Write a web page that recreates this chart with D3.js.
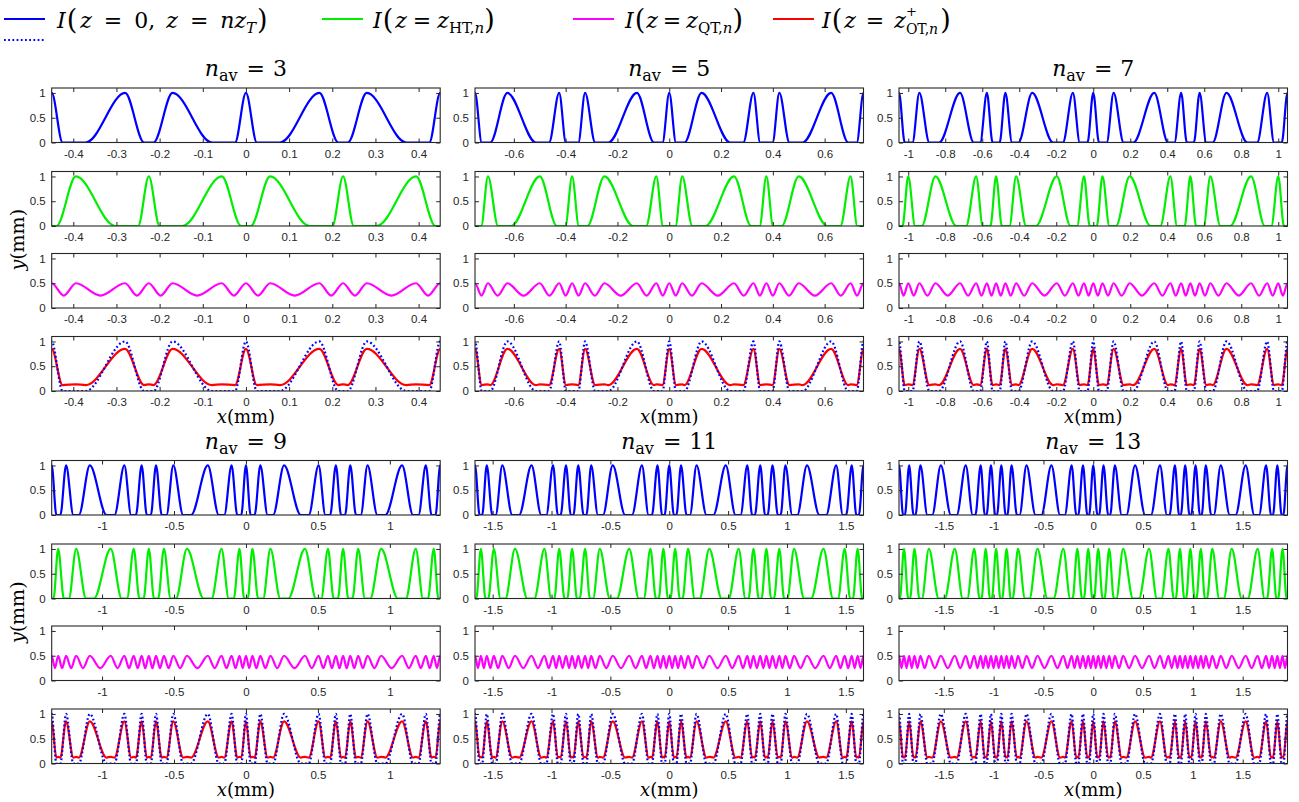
<!DOCTYPE html>
<html>
<head>
<meta charset="utf-8">
<script src="https://cdn.jsdelivr.net/npm/d3@7"></script>
<style>
  body { margin: 0; background: #ffffff; }
  svg { display: block; }
</style>
</head>
<body>
<svg id="chart" width="1299" height="802"></svg>
<script>
// Crest positions (mm) of the z = 0 / z = n z_T intensity ("blue" family)
// and of the half-Talbot intensity ("green" family), per n_av panel.
// Green lists carry one extra crest beyond each edge of the window.
const blue3  = [-0.45, -0.28, -0.17, 0, 0.17, 0.28, 0.45];
const green3 = [-0.506, -0.394, -0.225, -0.056, 0.056, 0.225, 0.394, 0.506];
const broad3 = [-0.394, -0.28, -0.17, -0.056, 0.056, 0.17, 0.28, 0.394];
const xTicks3 = [-0.4, -0.3, -0.2, -0.1, 0, 0.1, 0.2, 0.3, 0.4];

const blue5  = [-0.75, -0.625, -0.425, -0.325, -0.125, 0, 0.125, 0.325, 0.425, 0.625, 0.75];
const green5 = [-0.8, -0.7, -0.5, -0.375, -0.25, -0.05, 0.05, 0.25, 0.375, 0.5, 0.7, 0.8];
const broad5 = [-0.625, -0.5, -0.25, -0.125, 0.125, 0.25, 0.5, 0.625];
const xTicks5 = [-0.6, -0.4, -0.2, 0, 0.2, 0.4, 0.6];

const blue7  = [-1.05, -0.94, -0.72, -0.575, -0.475, -0.33, -0.11, 0, 0.11, 0.33, 0.475, 0.575, 0.72, 0.94, 1.05];
const green7 = [-1.1, -1.0, -0.853, -0.633, -0.525, -0.417, -0.197, -0.05, 0.05, 0.197, 0.417, 0.525, 0.633, 0.853, 1.0, 1.1];
const broad7 = [-0.853, -0.72, -0.33, -0.197, 0.197, 0.33, 0.72, 0.853];
const xTicks7 = [-1, -0.8, -0.6, -0.4, -0.2, 0, 0.2, 0.4, 0.6, 0.8, 1];

const blue9  = [-1.35, -1.25, -1.085, -0.845, -0.725, -0.625, -0.505, -0.265, -0.1, 0, 0.1, 0.265, 0.505, 0.625, 0.725, 0.845, 1.085, 1.25, 1.35];
const green9 = [-1.395, -1.305, -1.18, -0.94, -0.78, -0.675, -0.57, -0.41, -0.17, -0.045, 0.045, 0.17, 0.41, 0.57, 0.675, 0.78, 0.94, 1.18, 1.305, 1.395];
const broad9 = [-1.085, -0.94, -0.41, -0.265, 0.265, 0.41, 0.94, 1.085];
const xTicks9 = [-1, -0.5, 0, 0.5, 1];

const blue11  = [-1.65, -1.55, -1.418, -1.17, -0.987, -0.877, -0.773, -0.663, -0.48, -0.232, -0.1, 0, 0.1, 0.232, 0.48, 0.663, 0.773, 0.877, 0.987, 1.17, 1.418, 1.55, 1.65];
const green11 = [-1.7, -1.6, -1.49, -1.31, -1.06, -0.935, -0.825, -0.715, -0.59, -0.34, -0.16, -0.05, 0.05, 0.16, 0.34, 0.59, 0.715, 0.825, 0.935, 1.06, 1.31, 1.49, 1.6, 1.7];
const broad11 = [-1.31, -1.17, -0.48, -0.34, 0.34, 0.48, 1.17, 1.31];
const xTicks11 = [-1.5, -1, -0.5, 0, 0.5, 1, 1.5];

const blue13  = [-1.95, -1.848, -1.735, -1.53, -1.28, -1.13, -1.027, -0.923, -0.82, -0.67, -0.42, -0.217, -0.103, 0, 0.103, 0.217, 0.42, 0.67, 0.82, 0.923, 1.027, 1.13, 1.28, 1.53, 1.735, 1.848, 1.95];
const green13 = [-2.0, -1.9, -1.795, -1.65, -1.39, -1.195, -1.08, -0.975, -0.87, -0.755, -0.56, -0.3, -0.16, -0.05, 0.05, 0.16, 0.3, 0.56, 0.755, 0.87, 0.975, 1.08, 1.195, 1.39, 1.65, 1.795, 1.9, 2.0];
const broad13 = [-1.53, -1.39, -0.56, -0.42, 0.42, 0.56, 1.39, 1.53];
const xTicks13 = [-1.5, -1, -0.5, 0, 0.5, 1, 1.5];

const navValues = [3, 5, 7, 9, 11, 13];
const xHalfRange = [0.45, 0.75, 1.05, 1.35, 1.65, 1.95];
const yTicks = [0, 0.5, 1];

// Levels of the quarter-Talbot ripple and of the z_OT+ profile
const quarterHigh = 0.5, quarterLow = 0.25;
const otPeak = 0.85, otFloor = 0.12, otRipple = 0.135;

// Drawing: share of each crest-to-crest gap that a crest's flank occupies
const narrowFrac = [0.45, 0.52, 0.62, 0.72, 0.78, 0.82];
const broadFrac  = [0.8, 0.88, 0.85, 0.8, 0.75, 0.72];

const panels = [
  { blue: blue3,  green: green3,  broad: broad3,  ticks: xTicks3 },
  { blue: blue5,  green: green5,  broad: broad5,  ticks: xTicks5 },
  { blue: blue7,  green: green7,  broad: broad7,  ticks: xTicks7 },
  { blue: blue9,  green: green9,  broad: broad9,  ticks: xTicks9 },
  { blue: blue11, green: green11, broad: broad11, ticks: xTicks11 },
  { blue: blue13, green: green13, broad: broad13, ticks: xTicks13 }
].map((p, i) => Object.assign(p, {
  nav: navValues[i], xMax: xHalfRange[i], fn: narrowFrac[i], fb: broadFrac[i]
}));

// ---------- layout & style ----------
const W = 1299, H = 802;
const colLeft = [51.7, 475, 899];
const plotW = 388.5, plotH = 54.5;
const groupTop = [88, 460.5];
const rowOff = [0, 83.5, 165.5, 248.5];
const C = { blue: "#0000ff", green: "#00ee00", magenta: "#ff00ff", red: "#ff0000", frame: "#262626" };
const lw = 2.2;
const serif = "'DejaVu Serif', 'Liberation Serif', serif";
const sans = "'Liberation Sans', Arial, sans-serif";

const svg = d3.select("#chart");
svg.append("rect").attr("width", W).attr("height", H).attr("fill", "#fff");

// Rich text: sequence of segments, each {t, it, fs, dy, gap, hold}
function rich(g, x, y, segs, color) {
  let cx = x;
  segs.forEach(s => {
    const t = g.append("text")
      .attr("x", cx).attr("y", y + (s.dy || 0))
      .attr("font-family", serif)
      .attr("font-size", s.fs)
      .attr("font-style", s.it ? "italic" : "normal")
      .attr("fill", color || "#000")
      .text(s.t);
    const w = t.node().getComputedTextLength();
    if (!s.hold) cx += w + (s.gap || 0);
  });
  return cx - x;
}

// Profile key points: crests at 1, feet at 0, other-family crests at 0
function profile(all, kind, broadSet, fn, fb) {
  const pts = [];
  all.forEach((c, i) => {
    if (c.kind !== kind) { pts.push({ x: c.x, v: 0, role: "z" }); return; }
    const f = broadSet.has(c.x) ? fb : fn;
    const prev = all[i - 1], next = all[i + 1];
    const dl = prev ? c.x - prev.x : next.x - c.x;
    const dr = next ? next.x - c.x : c.x - prev.x;
    pts.push({ x: c.x - f * dl, v: 0, role: "f" },
             { x: c.x, v: 1, role: "c" },
             { x: c.x + f * dr, v: 0, role: "f" });
  });
  pts.sort((a, b) => a.x - b.x);
  return pts;
}

panels.forEach((p, pi) => {
  const col = pi % 3, grp = Math.floor(pi / 3);
  const x0 = colLeft[col];
  const x = d3.scaleLinear().domain([-p.xMax, p.xMax]).range([x0, x0 + plotW]);

  const all = p.blue.map(v => ({ x: v, kind: "b" }))
    .concat(p.green.map(v => ({ x: v, kind: "g" })))
    .sort((a, b) => a.x - b.x);
  const broadSet = new Set(p.broad);
  const bluePts = profile(all, "b", broadSet, p.fn, p.fb);
  const greenPts = profile(all, "g", broadSet, p.fn, p.fb);
  const magPts = [];
  all.forEach((c, i) => {
    magPts.push({ x: c.x, v: quarterHigh });
    if (i < all.length - 1) magPts.push({ x: (c.x + all[i + 1].x) / 2, v: quarterLow });
  });
  const redPts = bluePts.map(d => ({
    x: d.x,
    v: d.role === "c" ? otPeak : d.role === "z" ? otRipple : otFloor
  }));

  const rows = [
    [{ pts: bluePts, color: C.blue }],
    [{ pts: greenPts, color: C.green }],
    [{ pts: magPts, color: C.magenta }],
    [{ pts: redPts, color: C.red }, { pts: bluePts, color: C.blue, dotted: true }]
  ];

  rows.forEach((series, ri) => {
    const top = groupTop[grp] + rowOff[ri];
    const y = d3.scaleLinear().domain([0, 1.1]).range([top + plotH, top]);
    const g = svg.append("g");
    const clipId = `clip-${pi}-${ri}`;
    g.append("clipPath").attr("id", clipId)
      .append("rect").attr("x", x0).attr("y", top).attr("width", plotW).attr("height", plotH);

    const line = d3.line().x(d => x(d.x)).y(d => y(d.v)).curve(d3.curveMonotoneX);
    const cg = g.append("g").attr("clip-path", `url(#${clipId})`);
    series.forEach(s => {
      cg.append("path")
        .attr("d", line(s.pts))
        .attr("fill", "none")
        .attr("stroke", s.color)
        .attr("stroke-width", lw)
        .attr("stroke-dasharray", s.dotted ? "1.8,2.4" : null)
        .attr("stroke-linejoin", "round");
    });

    // axes: inward ticks on all four sides
    const fmt = d => String(d);
    const ax = [
      g.append("g").attr("transform", `translate(0,${top + plotH})`)
        .call(d3.axisBottom(x).tickValues(p.ticks).tickSize(-4).tickPadding(7).tickFormat(fmt)),
      g.append("g").attr("transform", `translate(0,${top})`)
        .call(d3.axisTop(x).tickValues(p.ticks).tickSize(-4).tickFormat("")),
      g.append("g").attr("transform", `translate(${x0},0)`)
        .call(d3.axisLeft(y).tickValues(yTicks).tickSize(-4).tickPadding(6).tickFormat(fmt)),
      g.append("g").attr("transform", `translate(${x0 + plotW},0)`)
        .call(d3.axisRight(y).tickValues(yTicks).tickSize(-4).tickFormat(""))
    ];
    ax.forEach(a => {
      a.select(".domain").remove();
      a.selectAll("line").attr("stroke", C.frame).attr("stroke-width", 1);
      a.selectAll("text").attr("fill", C.frame).attr("font-size", 11.5).attr("font-family", sans);
    });
    g.append("rect").attr("x", x0).attr("y", top).attr("width", plotW).attr("height", plotH)
      .attr("fill", "none").attr("stroke", C.frame).attr("stroke-width", 1.1);
  });

  // panel title  n_av = N
  const tg = svg.append("g");
  const tw = rich(tg, 0, 0, [
    { t: "n", it: true, fs: 22 },
    { t: "av", fs: 16, dy: 5, gap: 9 },
    { t: "=", fs: 22, gap: 8 },
    { t: String(p.nav), fs: 22 }
  ]);
  tg.attr("transform", `translate(${x0 + plotW / 2 - tw / 2},${groupTop[grp] - 12})`);

  // x axis label under the bottom row
  const lg = svg.append("g");
  const lwid = rich(lg, 0, 0, [
    { t: "x", it: true, fs: 18 },
    { t: "(mm)", fs: 18 }
  ]);
  lg.attr("transform", `translate(${x0 + plotW / 2 - lwid / 2},${groupTop[grp] + rowOff[3] + plotH + 32})`);
});

// y axis labels (rotated), one per group
groupTop.forEach(t => {
  const g = svg.append("g");
  const w = rich(g, 0, 0, [
    { t: "y", it: true, fs: 19 },
    { t: "(mm)", fs: 19 }
  ]);
  const cy = t + rowOff[1] + plotH + (rowOff[2] - rowOff[1] - plotH) / 2;
  g.attr("transform", `translate(24,${cy + w / 2}) rotate(-90)`);
});

// legend
const legend = svg.append("g");
const legY = 22;
function legLine(x1, yv, color, dotted) {
  legend.append("line").attr("x1", x1).attr("x2", x1 + 41).attr("y1", yv).attr("y2", yv)
    .attr("stroke", color).attr("stroke-width", 2.2)
    .attr("stroke-dasharray", dotted ? "1.8,2.4" : null);
}
legLine(4, legY - 3, C.blue);
legLine(4, legY + 18, C.blue, true);
rich(legend, 57, legY + 6, [
  { t: "I", it: true, fs: 22, gap: 1 }, { t: "(", fs: 27, dy: 1, gap: 3 },
  { t: "z", it: true, fs: 22, gap: 12 }, { t: "=", fs: 22, gap: 12 }, { t: "0,", fs: 22, gap: 11 },
  { t: "z", it: true, fs: 22, gap: 12 }, { t: "=", fs: 22, gap: 12 },
  { t: "nz", it: true, fs: 22 }, { t: "T", it: true, fs: 15, dy: 5, gap: 1 }, { t: ")", fs: 27, dy: 1 }
]);
legLine(322, legY - 3, C.green);
rich(legend, 373, legY + 6, [
  { t: "I", it: true, fs: 22, gap: 1 }, { t: "(", fs: 27, dy: 1, gap: 2 },
  { t: "z", it: true, fs: 22, gap: 6 }, { t: "=", fs: 22, gap: 6 },
  { t: "z", it: true, fs: 22 }, { t: "HT,", fs: 15, dy: 5 }, { t: "n", it: true, fs: 15, dy: 5 },
  { t: ")", fs: 27, dy: 1 }
]);
legLine(573, legY - 3, C.magenta);
rich(legend, 625, legY + 6, [
  { t: "I", it: true, fs: 22, gap: 1 }, { t: "(", fs: 27, dy: 1, gap: 1 },
  { t: "z", it: true, fs: 22, gap: 5 }, { t: "=", fs: 22, gap: 5 },
  { t: "z", it: true, fs: 22 }, { t: "QT,", fs: 15, dy: 5 }, { t: "n", it: true, fs: 15, dy: 5 },
  { t: ")", fs: 27, dy: 1 }
]);
legLine(773, legY - 3, C.red);
rich(legend, 822, legY + 6, [
  { t: "I", it: true, fs: 22, gap: 1 }, { t: "(", fs: 27, dy: 1, gap: 2 },
  { t: "z", it: true, fs: 22, gap: 10 }, { t: "=", fs: 22, gap: 10 },
  { t: "z", it: true, fs: 22 }, { t: "+", fs: 13, dy: -12, hold: true },
  { t: "OT,", fs: 14, dy: 6 }, { t: "n", it: true, fs: 14, dy: 6, gap: 2 },
  { t: ")", fs: 27, dy: 1 }
]);
</script>
</body>
</html>
